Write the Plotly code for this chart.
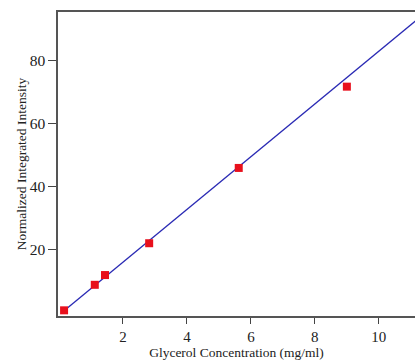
import plotly.graph_objects as go

conc = [0.16, 1.12, 1.44, 2.82, 5.62, 9.0]
intensity = [0.8, 8.9, 12.0, 22.1, 46.0, 71.8]
fit_x = [0.16, 11.2]
fit_y = [0.7, 93.1]
x_ticks = [2, 4, 6, 8, 10]
y_ticks = [20, 40, 60, 80]

fig = go.Figure()
fig.add_trace(go.Scatter(x=fit_x, y=fit_y, mode="lines",
                         line=dict(color="#2a2ab4", width=1.3), showlegend=False))
fig.add_trace(go.Scatter(x=conc, y=intensity, mode="markers",
                         marker=dict(symbol="square", size=8, color="#e8101c"),
                         showlegend=False))

font = dict(family="Liberation Serif, Times New Roman, serif", color="#222", size=15)
fig.update_layout(
    width=415, height=360,
    margin=dict(l=58, r=0, t=12, b=44),
    paper_bgcolor="white", plot_bgcolor="white",
    font=font,
    xaxis=dict(range=[-0.03, 11.13], tickvals=x_ticks, ticks="outside", ticklen=6,
               tickcolor="#444", showline=True, linecolor="#555", linewidth=1.5,
               mirror=True, showgrid=False, zeroline=False,
               title=dict(text="Glycerol Concentration (mg/ml)", standoff=1, font=dict(size=13.5)),
               tickfont=dict(size=15)),
    yaxis=dict(range=[-1, 95.5], tickvals=y_ticks, ticks="outside", ticklen=8,
               tickcolor="#444", showline=True, linecolor="#555", linewidth=1.5,
               showgrid=False, zeroline=False,
               title=dict(text="Normalized Integrated Intensity", standoff=0, font=dict(size=13.5)),
               tickfont=dict(size=15.5)),
)
fig.write_html("out.html", config={"displayModeBar": False})

with open("out.html", "r", encoding="utf-8") as f:
    html = f.read()
html = html.replace("<body>", '<body style="margin:0;padding:0;overflow:hidden">', 1)
with open("out.html", "w", encoding="utf-8") as f:
    f.write(html)
